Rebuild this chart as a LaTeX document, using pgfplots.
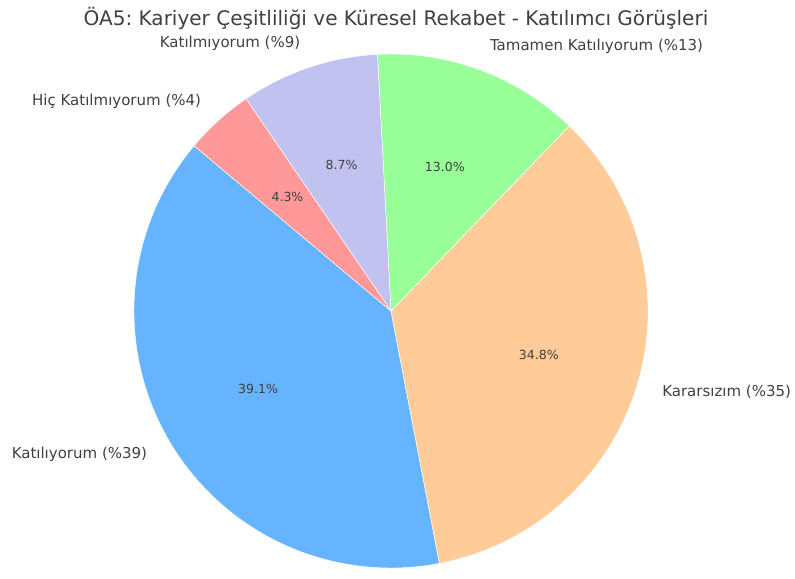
\documentclass[border=0pt]{standalone}
\usepackage{fontspec}
\setmainfont{DejaVu Sans}
\usepackage{pgfplots}
\pgfplotsset{compat=1.18}
\usepackage{pgfplotstable}
\frenchspacing

\definecolor{wedge0}{HTML}{66B3FF}
\definecolor{wedge1}{HTML}{FFCC99}
\definecolor{wedge2}{HTML}{99FF99}
\definecolor{wedge3}{HTML}{C2C2F0}
\definecolor{wedge4}{HTML}{FF9999}
\definecolor{txt}{HTML}{404040}

% share of answers, counter-clockwise from 140 degrees
\pgfplotstableread[col sep=comma]{
label,pct,shown
Katılıyorum (\%39),39.13,39.1\%
Kararsızım (\%35),34.78,34.8\%
Tamamen Katılıyorum (\%13),13.04,13.0\%
Katılmıyorum (\%9),8.70,8.7\%
Hiç Katılmıyorum (\%4),4.35,4.3\%
}\piedata

\def\cumang{140}
\pgfplotsforeachungrouped \i in {0,...,4}{%
  \pgfplotstablegetelem{\i}{pct}\of\piedata
  \pgfmathsetmacro\sweep{\pgfplotsretval*3.6}%
  \pgfmathsetmacro\endang{\cumang+\sweep}%
  \pgfmathsetmacro\midang{\cumang+\sweep/2}%
  \expandafter\xdef\csname sa\i\endcsname{\cumang}%
  \expandafter\xdef\csname ea\i\endcsname{\endang}%
  \expandafter\xdef\csname ma\i\endcsname{\midang}%
  \pgfmathparse{cos(\midang)<0?1:0}%
  \ifnum\pgfmathresult=1
    \expandafter\xdef\csname an\i\endcsname{east}%
  \else
    \expandafter\xdef\csname an\i\endcsname{west}%
  \fi
  \pgfplotstablegetelem{\i}{label}\of\piedata
  \expandafter\global\expandafter\let\csname lb\i\endcsname\pgfplotsretval
  \pgfplotstablegetelem{\i}{shown}\of\piedata
  \expandafter\global\expandafter\let\csname sh\i\endcsname\pgfplotsretval
  \global\let\cumang\endang
}

\begin{document}
\begin{tikzpicture}
\begin{axis}[
  x=0.03cm, y=0.03cm,
  xmin=0, xmax=795, ymin=0, ymax=572,
  hide axis, clip=false,
]
\path (axis cs:0,0) rectangle (axis cs:795,572);
\pgfplotsinvokeforeach{0,...,4}{
  \fill[wedge#1, draw=white, line width=0.4pt] (axis cs:391,261)
    -- ++(\csname sa#1\endcsname:7.71cm)
    arc[start angle=\csname sa#1\endcsname, end angle=\csname ea#1\endcsname, radius=7.71cm]
    -- cycle;
}
\pgfplotsinvokeforeach{0,...,4}{
  \node[anchor=\csname an#1\endcsname, inner sep=0pt, text=txt,
        font=\fontsize{12.8}{15}\selectfont]
    at ([shift={(\csname ma#1\endcsname:8.481cm)}]axis cs:391,261) {\csname lb#1\endcsname};
  \node[inner sep=0pt, text=txt, font=\fontsize{10.7}{13}\selectfont]
    at ([shift={(\csname ma#1\endcsname:4.626cm)}]axis cs:391,261) {\csname sh#1\endcsname};
}
\node[text=txt, font=\fontsize{17.1}{20}\selectfont, inner sep=0pt]
  at (axis cs:396,554) {ÖA5: Kariyer Çeşitliliği ve Küresel Rekabet - Katılımcı Görüşleri};
\end{axis}
\end{tikzpicture}
\end{document}
